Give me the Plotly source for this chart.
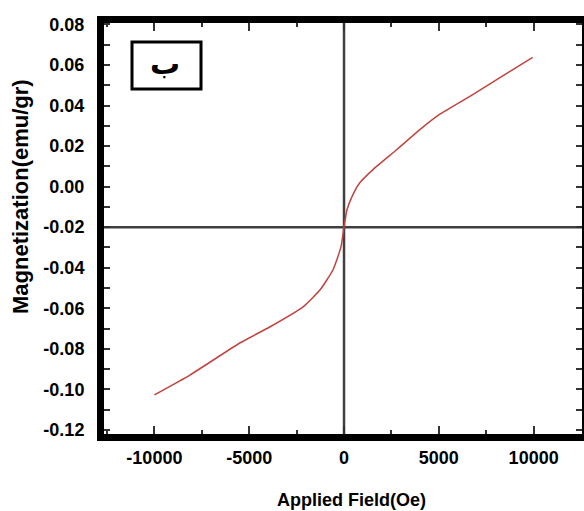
import plotly.graph_objects as go

# Data (Applied field in Oe, magnetization in emu/gr)
field = [-10000, -8105, -5474, -3895, -2158, -1263, -579, -158, 0, 158, 421,
         842, 1526, 2789, 4000, 5053, 6789, 8053, 9947]
magnet = [-0.1027, -0.0928, -0.0770, -0.0691, -0.0593, -0.0509, -0.0410,
          -0.0296, -0.0198, -0.0114, -0.0049, 0.0020, 0.0084, 0.0183, 0.0281,
          0.0357, 0.0454, 0.0528, 0.0637]

x_tickvals = [-10000, -5000, 0, 5000, 10000]
x_ticktext = ["-10000", "-5000", "0", "5000", "10000"]
y_tickvals = [0.08, 0.06, 0.04, 0.02, 0.00, -0.02, -0.04, -0.06, -0.08, -0.10, -0.12]
y_ticktext = ["0.08", "0.06", "0.04", "0.02", "0.00", "-0.02", "-0.04",
              "-0.06", "-0.08", "-0.10", "-0.12"]

FONT = "Liberation Sans, Arial, sans-serif"

W, H = 584, 511
L, R, T, B = 104, 2, 23, 77
PW, PH = W - L - R, H - T - B


def px(x):
    return (x - L) / PW


def py(y):
    return (H - B - y) / PH


fig = go.Figure()
fig.add_trace(go.Scatter(x=field, y=magnet, mode="lines",
                         line=dict(color="#c0443f", width=1.5, shape="spline", smoothing=0.5),
                         showlegend=False, hoverinfo="skip"))

# Reference axes through the origin of the loop
fig.add_shape(type="line", xref="x", yref="paper", x0=0, x1=0, y0=0, y1=1,
              line=dict(color="#404040", width=2.5), layer="below")
fig.add_shape(type="line", xref="paper", yref="y", x0=0, x1=1, y0=-0.02, y1=-0.02,
              line=dict(color="#404040", width=2.5), layer="below")

# Label box
fig.add_shape(type="rect", xref="paper", yref="paper", x0=px(132), x1=px(201), y0=py(89), y1=py(42),
              line=dict(color="black", width=3), fillcolor="white", layer="below")
fig.add_annotation(xref="paper", yref="paper", x=px(165), y=py(64), text="\u200eب\u200e",
                   showarrow=False, xanchor="center", yanchor="middle",
                   font=dict(family="DejaVu Sans", size=30, color="black", weight="bold"))

# Axis titles (as annotations for exact placement)
fig.add_annotation(xref="paper", yref="paper", x=px(20), y=py(197),
                   text="Magnetization(emu/gr)", textangle=-90, showarrow=False,
                   xanchor="center", yanchor="middle",
                   font=dict(family=FONT, size=22, color="black", weight="bold"))
fig.add_annotation(xref="paper", yref="paper", x=px(351), y=py(500),
                   text="Applied Field(Oe)", showarrow=False, xanchor="center", yanchor="middle",
                   font=dict(family=FONT, size=18, color="black", weight="bold"))

fig.update_layout(
    width=W, height=H,
    margin=dict(l=L, r=R, t=T, b=B, autoexpand=False),
    paper_bgcolor="white", plot_bgcolor="white",
    xaxis=dict(range=[-12658, 12550], showgrid=False, zeroline=False, automargin=False,
               showline=True, linewidth=7, linecolor="black", mirror="ticks",
               ticks="inside", ticklen=8, tickwidth=2, tickcolor="#333333",
               tickvals=x_tickvals, ticktext=x_ticktext,
               minor=dict(ticks="inside", ticklen=4, tickwidth=2, tickcolor="#333333",
                          tickmode="linear", tick0=-12500, dtick=2500),
               tickfont=dict(family=FONT, size=18, color="black", weight="bold"),
               ticklabelstandoff=1),
    yaxis=dict(range=[-0.122, 0.0807], showgrid=False, zeroline=False, automargin=False,
               showline=True, linewidth=7, linecolor="black", mirror="ticks",
               ticks="inside", ticklen=6, tickwidth=2, tickcolor="#333333",
               tickvals=y_tickvals, ticktext=y_ticktext,
               minor=dict(ticks="inside", ticklen=6, tickwidth=2, tickcolor="#333333",
                          tickmode="linear", tick0=-0.12, dtick=0.01),
               tickfont=dict(family=FONT, size=18, color="black", weight="bold"),
               ticklabelstandoff=9),
)

fig.write_html("out.html", config={"displayModeBar": False},
               post_script="document.body.style.margin='0';document.body.style.overflow='hidden';")
